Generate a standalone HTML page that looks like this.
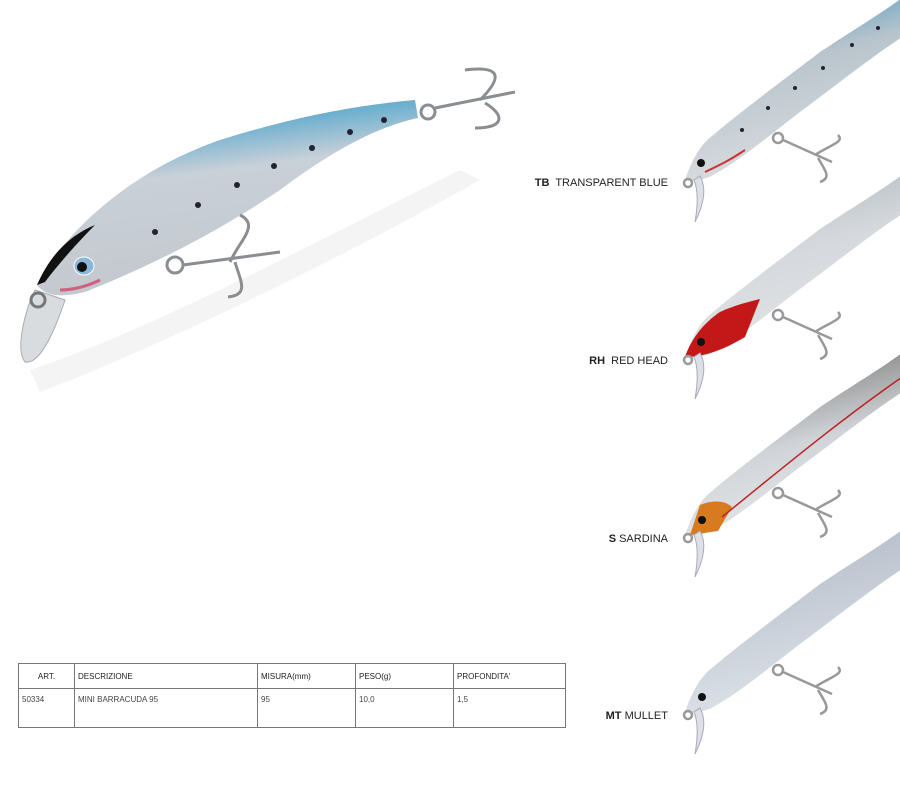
<!DOCTYPE html>
<html><head><meta charset="utf-8"><style>
body{margin:0;background:#fff;width:900px;height:800px;overflow:hidden;position:relative;font-family:"Liberation Sans",sans-serif}
svg{position:absolute;left:0;top:0}
.lbl{position:absolute;font-size:11px;color:#222;right:232px;white-space:pre}
.lbl b{font-weight:bold}
table{position:absolute;left:18px;top:663px;width:548px;border-collapse:collapse;font-size:8px;color:#444}
td{border:1px solid #777;padding:0 3px;vertical-align:top}
tr.h td{height:24px;vertical-align:middle;color:#222}
tr.d td{height:32px;padding-top:6px}
</style></head><body>
<svg width="900" height="800" viewBox="0 0 900 800">
<defs>
<linearGradient id="bb" x1="0" y1="0" x2="0.25" y2="1">
<stop offset="0" stop-color="#1f94c8"/><stop offset="0.25" stop-color="#6fb0cf"/><stop offset="0.45" stop-color="#c8d0d8"/><stop offset="1" stop-color="#c4c8ce"/></linearGradient>
<linearGradient id="sb" x1="0" y1="0" x2="0.3" y2="1"><stop offset="0" stop-color="#2a8cb8"/><stop offset="0.45" stop-color="#b8c4cc"/><stop offset="1" stop-color="#d9dde0"/></linearGradient>
<linearGradient id="sg" x1="0" y1="0" x2="0.3" y2="1"><stop offset="0" stop-color="#a8b0b8"/><stop offset="0.5" stop-color="#d4d8dc"/><stop offset="1" stop-color="#e2e4e6"/></linearGradient>
<linearGradient id="sd" x1="0" y1="0" x2="0.3" y2="1"><stop offset="0" stop-color="#333"/><stop offset="0.3" stop-color="#999"/><stop offset="0.6" stop-color="#d0d4d8"/><stop offset="1" stop-color="#e4e6e8"/></linearGradient>
<linearGradient id="sm" x1="0" y1="0" x2="0.3" y2="1"><stop offset="0" stop-color="#556"/><stop offset="0.25" stop-color="#b8c0cc"/><stop offset="1" stop-color="#dde2e8"/></linearGradient>
<path id="body" d="M685,180 C692,160 700,145 712,136 C740,112 790,75 820,52 C850,32 880,14 905,-4 L905,35 C870,58 830,90 800,112 C770,135 740,160 715,174 C705,180 692,182 685,180 Z"/>
<g id="hk" fill="none" stroke="#999" stroke-width="2.5">
<circle cx="778" cy="138" r="5"/><path d="M783,140 L832,162 M815,155 C830,145 845,142 838,135 M818,158 C825,170 832,178 820,182"/>
<circle cx="688" cy="183" r="4"/>
</g>
<path id="lip" d="M700,176 C708,190 702,208 695,222 C698,205 698,190 694,180 Z" fill="#dde0e6" stroke="#aab" stroke-width="1"/>
</defs>
<path d="M30,370 C150,330 300,250 460,170 L480,180 C320,270 150,350 40,392 Z" fill="#f4f4f4"/>
<!-- big lure -->
<path d="M37,285 C60,240 120,175 220,140 C300,115 360,105 415,100 L418,118 C370,128 320,160 280,190 C220,230 160,262 85,292 C60,298 45,296 37,285 Z" fill="url(#bb)"/>
<path d="M37,285 C50,255 70,235 95,225 C80,240 60,262 45,282 Z" fill="#111"/>
<path d="M60,290 C75,290 90,285 100,280" stroke="#d06080" stroke-width="3" fill="none"/>
<ellipse cx="84" cy="266" rx="10" ry="9" fill="#8ab8d8" stroke="#fff"/>
<circle cx="82" cy="267" r="5" fill="#111"/>
<path d="M35,290 C25,310 15,350 25,362 C40,365 55,330 65,300 Z" fill="#d8dcde" stroke="#aab" />
<circle cx="38" cy="300" r="7" fill="none" stroke="#777" stroke-width="3"/>
<g fill="#223"><circle cx="155" cy="232" r="3"/><circle cx="198" cy="205" r="3"/><circle cx="237" cy="185" r="3"/><circle cx="274" cy="166" r="3"/><circle cx="312" cy="148" r="3"/><circle cx="350" cy="132" r="3"/><circle cx="384" cy="120" r="3"/></g>
<g fill="none" stroke="#8a8e92" stroke-width="3">
<circle cx="175" cy="265" r="8"/><path d="M183,265 L280,252 M230,262 C240,240 260,225 240,215 M235,262 C240,280 250,295 228,297"/>
<circle cx="428" cy="112" r="7"/><path d="M435,108 L515,92 M480,100 C500,80 505,65 465,70 M485,103 C505,115 505,128 475,128"/>
</g>
<!-- small lures -->
<g>
<use href="#body" fill="url(#sb)"/>
<path d="M705,172 C720,165 730,160 745,150" stroke="#c33" stroke-width="2" fill="none"/>
<g fill="#223"><circle cx="742" cy="130" r="2"/><circle cx="768" cy="108" r="2"/><circle cx="795" cy="88" r="2"/><circle cx="823" cy="68" r="2"/><circle cx="852" cy="45" r="2"/><circle cx="878" cy="28" r="2"/></g>
<circle cx="701" cy="163" r="4" fill="#111"/>
<use href="#lip"/><use href="#hk"/>
</g>
<g transform="translate(0,177)">
<use href="#body" fill="url(#sg)"/>
<path d="M685,180 C692,160 705,145 720,135 C735,128 748,125 760,122 L745,160 C725,172 705,180 685,180 Z" fill="#c41818"/>
<circle cx="701" cy="165" r="4" fill="#111"/>
<use href="#lip"/><use href="#hk"/>
</g>
<g transform="translate(0,355)">
<use href="#body" fill="url(#sd)"/>
<path d="M700,150 C712,145 725,145 732,152 L718,176 L690,180 Z" fill="#d87a20"/>
<path d="M722,162 C780,115 840,65 905,20" stroke="#b22" stroke-width="1.5" fill="none"/>
<circle cx="702" cy="165" r="4" fill="#111"/>
<use href="#lip"/><use href="#hk"/>
</g>
<g transform="translate(0,532)">
<use href="#body" fill="url(#sm)"/>
<circle cx="702" cy="165" r="4" fill="#111"/>
<use href="#lip"/><use href="#hk"/>
</g>
</svg>
<div class="lbl" style="top:177px"><b>TB</b>  TRANSPARENT BLUE</div>
<div class="lbl" style="top:355px"><b>RH</b>  RED HEAD</div>
<div class="lbl" style="top:533px"><b>S</b> SARDINA</div>
<div class="lbl" style="top:710px"><b>MT</b> MULLET</div>
<table>
<tr class="h"><td style="width:49px;text-align:center">ART.</td><td style="width:176px">DESCRIZIONE</td><td style="width:91px">MISURA(mm)</td><td style="width:91px">PESO(g)</td><td>PROFONDITA'</td></tr>
<tr class="d"><td>50334</td><td>MINI BARRACUDA 95</td><td>95</td><td>10,0</td><td>1,5</td></tr>
</table>
</body></html>
